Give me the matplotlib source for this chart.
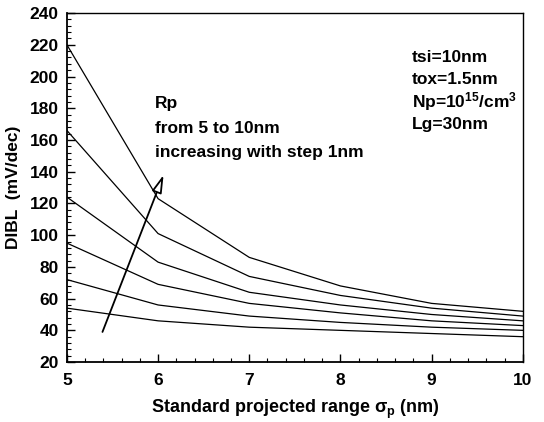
import matplotlib
matplotlib.use("Agg")
import matplotlib.pyplot as plt
from matplotlib.ticker import MultipleLocator

plt.rcParams['font.family'] = ['Liberation Sans', 'DejaVu Sans']
plt.rcParams['font.weight'] = 'bold'
plt.rcParams['mathtext.fontset'] = 'custom'
plt.rcParams['mathtext.rm'] = 'Liberation Sans:bold'
plt.rcParams['mathtext.it'] = 'Liberation Sans:bold'
plt.rcParams['mathtext.bf'] = 'Liberation Sans:bold'

# standard projected range sigma_p (nm)
sigma_p = [5, 6, 7, 8, 9, 10]

# DIBL (mV/dec), one curve per Rp (5..10 nm), top curve first
dibl_rp5 = [220, 123, 86, 68, 57, 52]
dibl_rp6 = [166, 101, 74, 62, 54, 49]
dibl_rp7 = [124, 83, 64, 56, 50, 46]
dibl_rp8 = [95, 69, 57, 51, 46, 43]
dibl_rp9 = [72, 56, 49, 45, 42, 40]
dibl_rp10 = [54, 46, 42, 40, 38, 36]
curves = [dibl_rp5, dibl_rp6, dibl_rp7, dibl_rp8, dibl_rp9, dibl_rp10]

params = ['tsi=10nm', 'tox=1.5nm', 'Np=10$^{15}$/cm$^3$', 'Lg=30nm']
note = ['Rp', 'from 5 to 10nm', 'increasing with step 1nm']

fig = plt.figure(figsize=(5.44, 4.22), dpi=100)
ax = fig.add_axes([0.123, 0.142, 0.838, 0.827])

for c in curves:
    ax.plot(sigma_p, c, color='black', linewidth=0.9)

ax.set_xlim(5, 10)
ax.set_ylim(20, 240)
ax.xaxis.set_major_locator(MultipleLocator(1))
ax.xaxis.set_minor_locator(MultipleLocator(0.2))
ax.yaxis.set_major_locator(MultipleLocator(20))
ax.yaxis.set_minor_locator(MultipleLocator(4))
ax.tick_params(which='both', direction='in', top=False, right=False)
ax.tick_params(which='major', length=6, width=1, labelsize=12.5)
ax.tick_params(axis='x', which='major', pad=8)
ax.tick_params(axis='y', which='major', pad=6)
ax.tick_params(which='minor', length=3, width=0.8)
for lab in ax.get_xticklabels() + ax.get_yticklabels():
    lab.set_fontweight('bold')

for s in ['left', 'bottom']:
    ax.spines[s].set_linewidth(1.3)
for s in ['top', 'right']:
    ax.spines[s].set_linewidth(1.0)

ax.set_xlabel(r'Standard projected range $\sigma_\mathrm{p}$ (nm)', fontsize=13, fontweight='bold', labelpad=7)
ax.set_ylabel('DIBL  (mV/dec)', fontsize=12.5, fontweight='bold', labelpad=6)

# Rp note
for i, t in enumerate(note):
    ax.text(5.97, 183 - i * 15.5, t, fontsize=12.5, fontweight='bold', va='center', ha='left')

# device parameters
for i, t in enumerate(params):
    ax.text(8.78, 212 - i * 14, t, fontsize=12.5, fontweight='bold', va='center', ha='left')

# arrow showing increasing Rp
ax.annotate('', xy=(6.06, 138), xytext=(5.39, 39),
            arrowprops=dict(arrowstyle='-|>,head_length=0.9,head_width=0.25',
                            mutation_scale=12,
                            facecolor='white', edgecolor='black', linewidth=1.3,
                            shrinkA=0, shrinkB=0))

fig.savefig('out.png', dpi=100)
